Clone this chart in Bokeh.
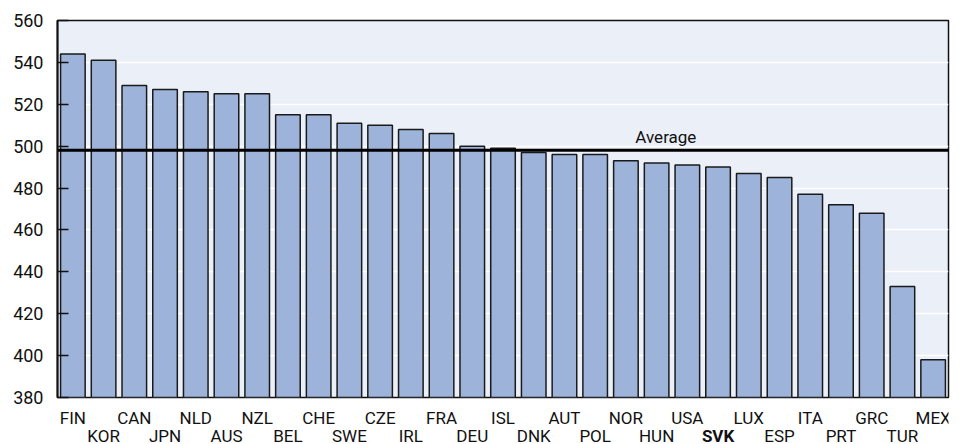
from bokeh.plotting import figure
from bokeh.models import ColumnDataSource, Span, Label, FactorRange, Range1d
from bokeh.layouts import column
from bokeh.core.properties import value, field
from bokeh.embed import file_html
from bokeh.resources import INLINE

countries = ["FIN", "KOR", "CAN", "JPN", "NLD", "AUS", "NZL", "BEL", "CHE", "SWE",
             "CZE", "IRL", "FRA", "DEU", "ISL", "DNK", "AUT", "POL", "NOR", "HUN",
             "USA", "SVK", "LUX", "ESP", "ITA", "PRT", "GRC", "TUR", "MEX"]
scores = [544, 541, 529, 527, 526, 525, 525, 515, 515, 511,
          510, 508, 506, 500, 499, 497, 496, 496, 493, 492,
          491, 490, 487, 485, 477, 472, 468, 433, 398]
average = 498
average_label = "Average"
y_ticks = [380, 400, 420, 440, 460, 480, 500, 520, 540, 560]
highlight = "SVK"

FONT = "Roboto"
FS = "17px"
INK = "#111111"

y0, y1 = y_ticks[0], y_ticks[-1]
xr = FactorRange(*countries)

top_border = 20
frame_h = 377
bottom_border = 10
strip_h = 444 - top_border - frame_h - bottom_border

p = figure(x_range=xr, y_range=Range1d(y0, y1),
           frame_width=891, frame_height=frame_h,
           min_border_left=57, min_border_right=15,
           min_border_top=top_border, min_border_bottom=bottom_border,
           output_backend="svg", toolbar_location=None)

p.background_fill_color = "#EBF0F8"
p.border_fill_color = "white"
p.outline_line_color = INK
p.outline_line_width = 1.5

src = ColumnDataSource(dict(country=countries, score=scores))
p.vbar(x="country", top="score", bottom=y0, width=0.8, source=src,
       fill_color="#9DB3DA", line_color="#1a1a1a", line_width=1.5)

p.add_layout(Span(location=average, dimension="width", line_color="black", line_width=3))
p.add_layout(Label(x=19.8, y=average + 1.8, text=average_label, text_align="center",
                   text_baseline="bottom", text_font=FONT, text_font_size=FS,
                   text_color=INK))

# y axis
p.yaxis.ticker = y_ticks
p.yaxis.major_tick_in = 11
p.yaxis.major_tick_out = 0
p.yaxis.minor_tick_line_color = None
p.yaxis.axis_line_width = 2
p.yaxis.axis_line_color = INK
p.yaxis.major_tick_line_width = 1.5
p.yaxis.major_tick_line_color = INK
p.yaxis.major_label_text_font = FONT
p.yaxis.major_label_text_font_size = "18px"
p.yaxis.major_label_text_color = INK
p.yaxis.major_label_standoff = 14

p.xaxis.visible = False
p.xgrid.grid_line_color = None
p.ygrid.grid_line_color = "white"
p.ygrid.grid_line_width = 1.5

# strip below the chart carrying the two-row category labels
p2 = figure(x_range=xr, y_range=Range1d(0, strip_h),
            frame_width=891, frame_height=strip_h,
            min_border_left=57, min_border_right=15, min_border_top=0, min_border_bottom=0,
            output_backend="svg", toolbar_location=None)
p2.outline_line_color = None
p2.background_fill_color = "white"
p2.border_fill_color = "white"
p2.axis.visible = False
p2.grid.grid_line_color = None

# rows sit 20 px and 38 px below the frame's bottom edge
row_y = [strip_h - (20 - bottom_border), strip_h - (38 - bottom_border)]
lab = dict(country=[], y=[], style=[])
for i, c in enumerate(countries):
    lab["country"].append(c)
    lab["y"].append(row_y[i % 2])
    lab["style"].append("bold" if c == highlight else "normal")

p2.text(x="country", y="y", text="country", source=ColumnDataSource(lab),
        text_align="center", text_baseline="middle",
        text_font=value(FONT), text_font_size=value(FS), text_font_style=field("style"),
        text_color=INK)

layout = column(p, p2, spacing=0)
open("out.html", "w").write(file_html(layout, INLINE))
